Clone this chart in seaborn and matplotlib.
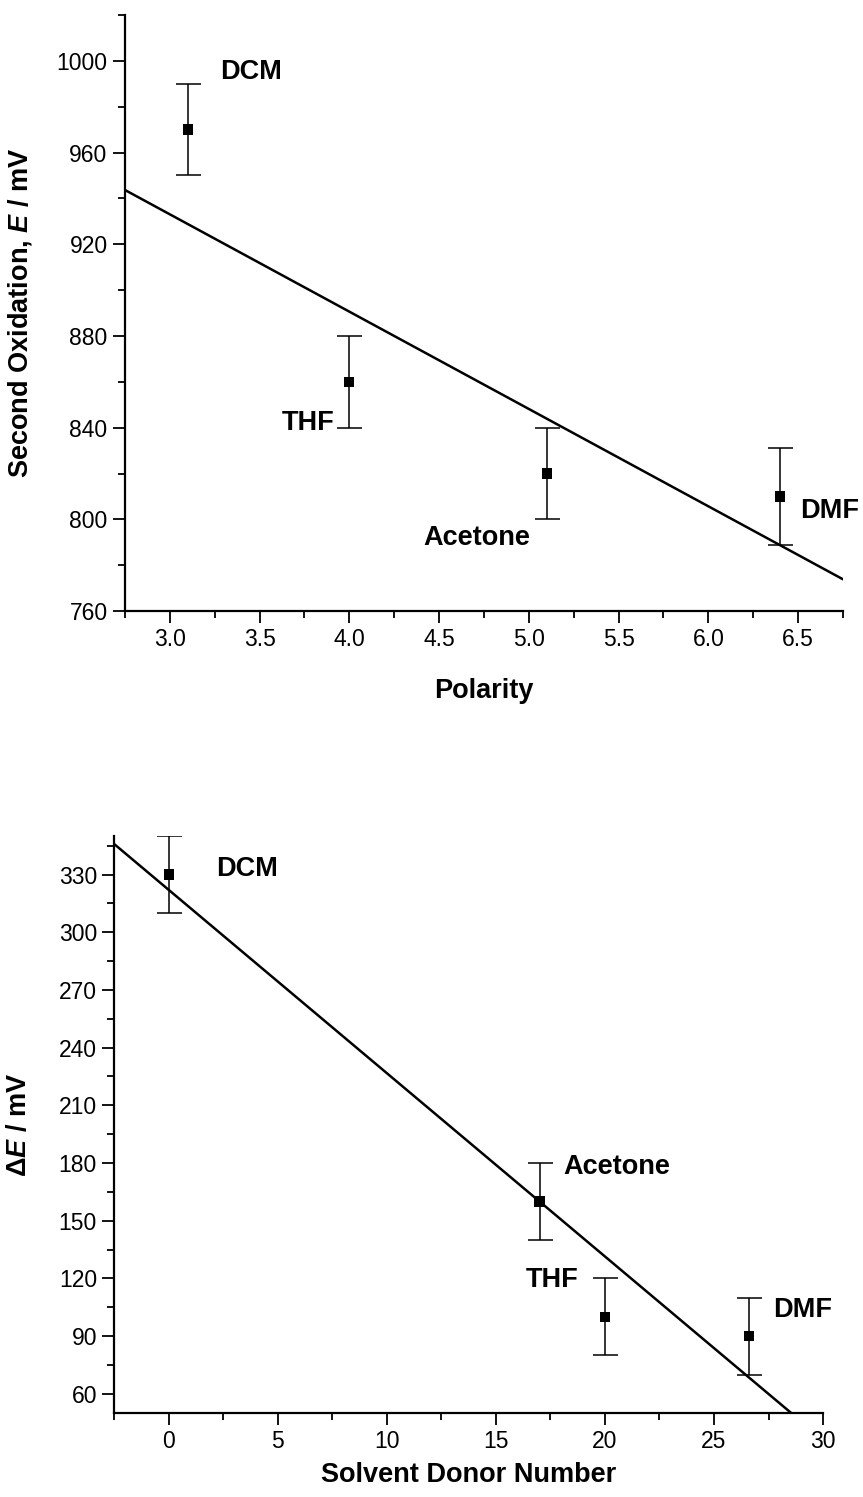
import numpy as np
import pandas as pd
import matplotlib
matplotlib.use("Agg")
import matplotlib.pyplot as plt
import seaborn as sns
from matplotlib.ticker import MultipleLocator

# ---------------- data ----------------
solvents_top = ["DCM", "THF", "Acetone", "DMF"]
polarity = [3.1, 4.0, 5.1, 6.4]
second_ox = [970, 860, 820, 810]
second_ox_err = [20, 20, 20, 21]
top_fit = [-42.45, 1060.4]          # slope, intercept

solvents_bot = ["DCM", "Acetone", "THF", "DMF"]
donor_number = [0.0, 17.0, 20.0, 26.6]
delta_e = [330, 160, 100, 90]
delta_e_err = [20, 20, 20, 20]
bot_fit = [-9.53, 322.0]

top_labels_pos = {"DCM": (3.28, 995), "THF": (3.92, 842), "Acetone": (4.41, 792), "DMF": (6.51, 803.5)}
bot_labels_pos = {"DCM": (2.18, 333), "Acetone": (18.1, 178), "THF": (18.8, 119), "DMF": (27.7, 103.5)}

# ---------------- style ----------------
sns.set_style("ticks")
plt.rcParams["font.family"] = ["Liberation Sans", "DejaVu Sans"]
plt.rcParams["mathtext.fontset"] = "custom"
plt.rcParams["mathtext.rm"] = "Liberation Sans:bold"
plt.rcParams["mathtext.it"] = "Liberation Sans:italic:bold"
plt.rcParams["mathtext.bf"] = "Liberation Sans:bold"
plt.rcParams["text.color"] = "black"
plt.rcParams["axes.labelcolor"] = "black"
plt.rcParams["xtick.color"] = "black"
plt.rcParams["ytick.color"] = "black"
plt.rcParams["axes.edgecolor"] = "black"

fig = plt.figure(figsize=(8.63, 14.97), dpi=100)
ax1 = fig.add_axes([0.1448, 0.5918, 0.832, 0.3982])
ax2 = fig.add_axes([0.1324, 0.0561, 0.8213, 0.3854])

TICK_FS = 16.5
LAB_FS = 19.5


def style_axes(ax):
    for s in ["top", "right"]:
        ax.spines[s].set_visible(False)
    for s in ["left", "bottom"]:
        ax.spines[s].set_linewidth(1.6)
        ax.spines[s].set_color("black")
    ax.tick_params(which="major", direction="out", length=8.5, width=1.3,
                   labelsize=TICK_FS, colors="black", pad=4)
    ax.tick_params(which="minor", direction="out", length=5, width=1.3, colors="black")


# ---------------- top panel ----------------
df1 = pd.DataFrame({"solvent": solvents_top, "x": polarity, "y": second_ox, "err": second_ox_err})
ax1.errorbar(df1["x"], df1["y"], yerr=df1["err"], fmt="none", ecolor="black",
             elinewidth=1.1, capsize=9, capthick=1.1, zorder=2)
sns.scatterplot(data=df1, x="x", y="y", marker="s", s=55, color="black",
                edgecolor="none", ax=ax1, zorder=3)
xl1 = (2.75, 6.75)
fx1 = np.linspace(xl1[0], xl1[1], 2)
sns.lineplot(x=fx1, y=top_fit[0] * fx1 + top_fit[1], color="black", linewidth=1.8, ax=ax1)
ax1.set_xlim(*xl1)
ax1.set_ylim(760, 1020)
ax1.xaxis.set_minor_locator(MultipleLocator(0.25))
ax1.yaxis.set_major_locator(MultipleLocator(40))
ax1.yaxis.set_minor_locator(MultipleLocator(20))
ax1.set_xticks([3.0, 3.5, 4.0, 4.5, 5.0, 5.5, 6.0, 6.5])
ax1.set_xticklabels(["3.0", "3.5", "4.0", "4.5", "5.0", "5.5", "6.0", "6.5"])
style_axes(ax1)
ax1.set_xlabel("Polarity", fontsize=LAB_FS, fontweight="bold", labelpad=19)
ax1.set_ylabel("Second Oxidation, $\\mathit{E}$ / mV", fontsize=LAB_FS, fontweight="bold", labelpad=16)
for name, (tx, ty) in top_labels_pos.items():
    ha = "right" if name == "THF" else "left"
    ax1.text(tx, ty, name, fontsize=LAB_FS, fontweight="bold", ha=ha, va="center", color="black")

# ---------------- bottom panel ----------------
df2 = pd.DataFrame({"solvent": solvents_bot, "x": donor_number, "y": delta_e, "err": delta_e_err})
ax2.errorbar(df2["x"], df2["y"], yerr=df2["err"], fmt="none", ecolor="black",
             elinewidth=1.1, capsize=9, capthick=1.1, zorder=2)
sns.scatterplot(data=df2, x="x", y="y", marker="s", s=55, color="black",
                edgecolor="none", ax=ax2, zorder=3)
xl2 = (-2.5, 30)
fx2 = np.linspace(xl2[0], xl2[1], 2)
sns.lineplot(x=fx2, y=bot_fit[0] * fx2 + bot_fit[1], color="black", linewidth=1.8, ax=ax2)
ax2.set_xlim(*xl2)
ax2.set_ylim(50, 350)
ax2.xaxis.set_major_locator(MultipleLocator(5))
ax2.xaxis.set_minor_locator(MultipleLocator(2.5))
ax2.set_yticks([60, 90, 120, 150, 180, 210, 240, 270, 300, 330])
ax2.yaxis.set_minor_locator(MultipleLocator(15))
style_axes(ax2)
ax2.set_xlabel("Solvent Donor Number", fontsize=LAB_FS, fontweight="bold", labelpad=6)
ax2.set_ylabel("Δ$\\mathit{E}$ / mV", fontsize=LAB_FS, fontweight="bold", labelpad=19)
for name, (tx, ty) in bot_labels_pos.items():
    ha = "right" if name == "THF" else "left"
    ax2.text(tx, ty, name, fontsize=LAB_FS, fontweight="bold", ha=ha, va="center", color="black")

for ax in (ax1, ax2):
    leg = ax.get_legend()
    if leg is not None:
        leg.remove()

fig.savefig("out.png", dpi=100)
